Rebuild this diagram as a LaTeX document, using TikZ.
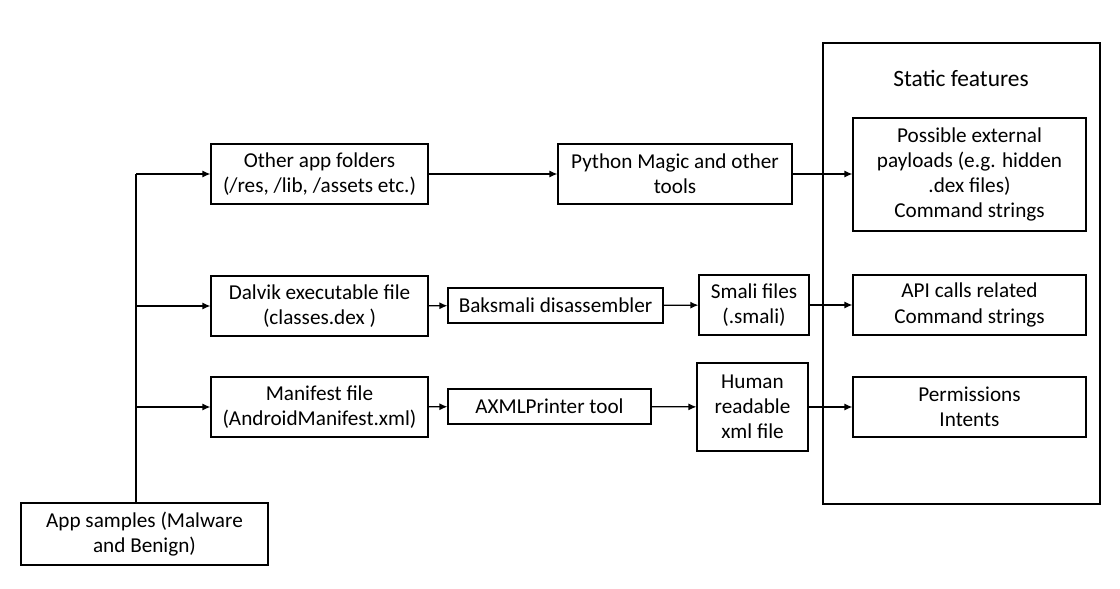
\documentclass[tikz,border=0pt]{standalone}
\usepackage{fontspec}
\setmainfont{Carlito}
\usetikzlibrary{arrows.meta}

\tikzset{
  box/.style={draw, line width=0.6pt, align=center, inner sep=1pt,
    font=\fontsize{10.6}{12.6}\selectfont},
  flow/.style={line width=0.6pt, -{Latex[length=4pt,width=3.5pt]}}
}

\begin{document}
\begin{tikzpicture}[x=0.5pt, y=-0.5pt]

\useasboundingbox (0,0) rectangle (1120,589);

% Static features frame
\draw[line width=0.8pt] (823,43) rectangle (1100,504);
\node[font=\fontsize{11.7}{14}\selectfont] (title) at (961,78) {Static features};

% Boxes
\node[box, minimum width=123.5pt, minimum height=31pt] (samples) at (144.5,534) {App samples (Malware\\and Benign)};
\node[box, minimum width=108.5pt, minimum height=30pt] (folders) at (319.5,174) {Other app folders\\(/res, /lib, /assets etc.)};
\node[box, minimum width=108.5pt, minimum height=30pt] (dalvik) at (319.5,306) {Dalvik executable file\\(classes.dex )};
\node[box, minimum width=108.5pt, minimum height=30pt] (manifest) at (319.5,407) {Manifest file\\(AndroidManifest.xml)};
\node[box, minimum width=117pt, minimum height=30pt] (python) at (675,174) {Python Magic and other\\tools};
\node[box, minimum width=107.5pt, minimum height=17.5pt] (baksmali) at (555.5,305.5) {Baksmali disassembler};
\node[box, minimum width=55pt, minimum height=30pt] (smali) at (754,305) {Smali files\\(.smali)};
\node[box, minimum width=101.5pt, minimum height=17.5pt] (axml) at (549.5,406.5) {AXMLPrinter tool};
\node[box, minimum width=55.5pt, minimum height=44pt] (human) at (752.5,407) {Human\\readable\\xml file};
\node[box, minimum width=116.5pt, minimum height=56.5pt] (payloads) at (969.5,174.5) {Possible external\\payloads (e.g. hidden\\.dex files)\\Command strings};
\node[box, minimum width=116.5pt, minimum height=30pt] (api) at (969.5,305) {API calls related\\Command strings};
\node[box, minimum width=116.5pt, minimum height=30pt] (perms) at (969.5,407) {Permissions\\Intents};

% Trunk
\coordinate (split) at (136,174);
\draw[line width=0.6pt] (split |- samples.north) -- (split);

% Arrows
\draw[flow] (split) -- (folders);
\draw[flow] (split |- dalvik) -- (dalvik);
\draw[flow] (split |- manifest) -- (manifest);
\draw[flow] (folders) -- (python);
\draw[flow] (python) -- (python -| payloads.west);
\draw[flow] (dalvik) -- (baksmali);
\draw[flow] (baksmali) -- (smali);
\draw[flow] (smali) -- (smali -| api.west);
\draw[flow] (manifest) -- (axml);
\draw[flow] (axml) -- (human);
\draw[flow] (human) -- (perms);

\end{tikzpicture}
\end{document}
